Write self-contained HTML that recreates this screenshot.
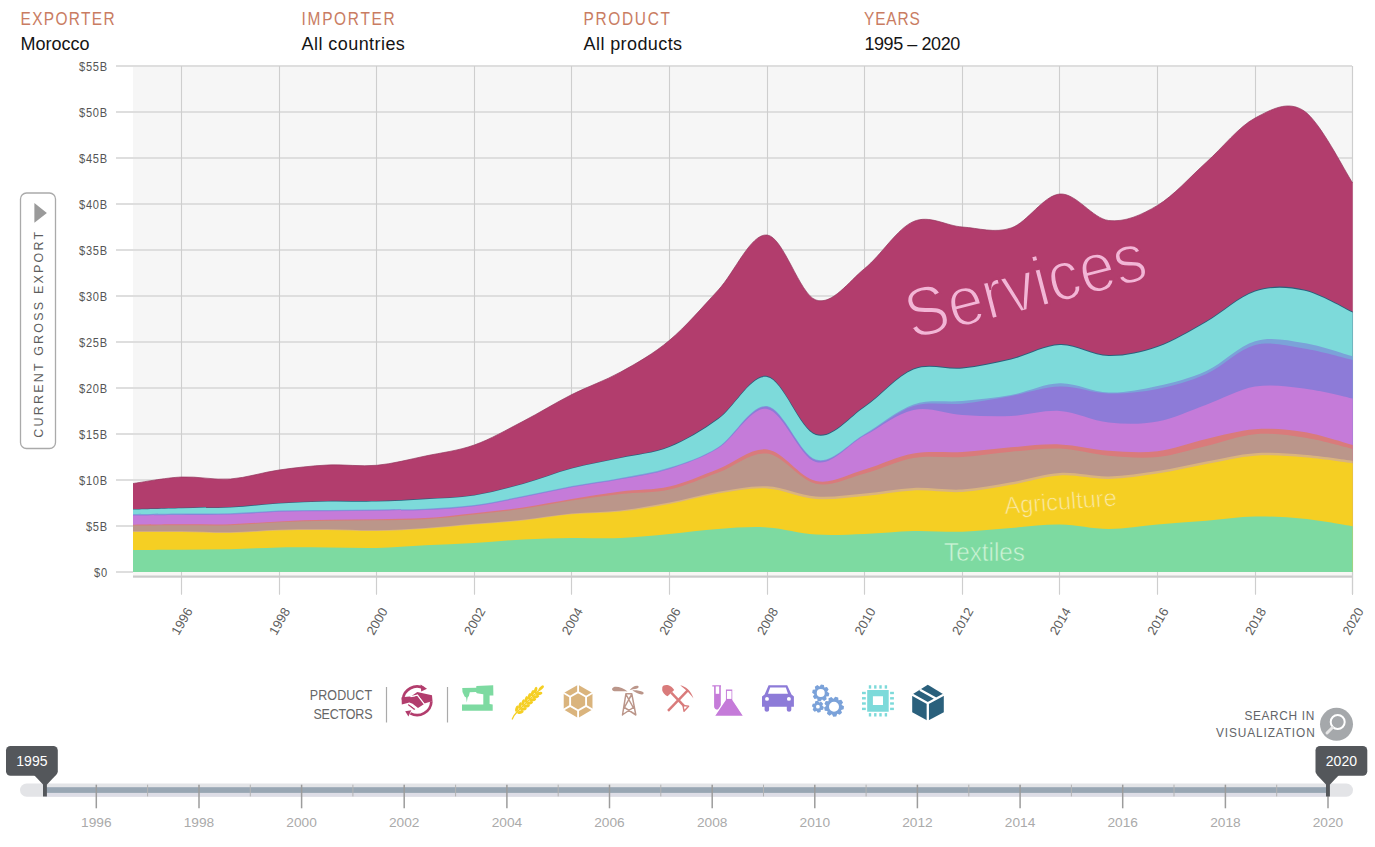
<!DOCTYPE html><html><head><meta charset="utf-8"><style>html,body{margin:0;padding:0;background:#fff;overflow:hidden}svg{display:block}text{font-family:"Liberation Sans",sans-serif}</style></head><body>
<svg width="1375" height="847" viewBox="0 0 1375 847">
<text transform="matrix(0.860,0,0,1,20.60,25.00)" font-size="18" fill="#c97c62" textLength="109.29" lengthAdjust="spacing">EXPORTER</text>
<text x="20.60" y="50.00" font-size="18" fill="#141414" textLength="69.03" lengthAdjust="spacing">Morocco</text>
<text transform="matrix(0.860,0,0,1,301.60,25.00)" font-size="18" fill="#c97c62" textLength="108.22" lengthAdjust="spacing">IMPORTER</text>
<text x="301.60" y="50.00" font-size="18" fill="#141414" textLength="103.25" lengthAdjust="spacing">All countries</text>
<text transform="matrix(0.860,0,0,1,583.40,25.00)" font-size="18" fill="#c97c62" textLength="100.76" lengthAdjust="spacing">PRODUCT</text>
<text x="583.60" y="50.00" font-size="18" fill="#141414" textLength="98.45" lengthAdjust="spacing">All products</text>
<text transform="matrix(0.860,0,0,1,864.00,25.00)" font-size="18" fill="#c97c62" textLength="64.97" lengthAdjust="spacing">YEARS</text>
<text x="864.40" y="50.00" font-size="18" fill="#141414" textLength="95.91" lengthAdjust="spacing">1995 – 2020</text>
<rect x="133" y="66" width="1219" height="506" fill="#f6f6f6"/>
<line x1="116" y1="572.0" x2="1352" y2="572.0" stroke="#dedede" stroke-width="1.8"/>
<text transform="matrix(0.88,0,0,1,107.8,576.5)" font-size="12.6" fill="#555" text-anchor="end" letter-spacing="0.8">$0</text>
<line x1="116" y1="526.0" x2="1352" y2="526.0" stroke="#dedede" stroke-width="1.8"/>
<text transform="matrix(0.88,0,0,1,107.8,530.5)" font-size="12.6" fill="#555" text-anchor="end" letter-spacing="0.8">$5B</text>
<line x1="116" y1="480.0" x2="1352" y2="480.0" stroke="#dedede" stroke-width="1.8"/>
<text transform="matrix(0.88,0,0,1,107.8,484.5)" font-size="12.6" fill="#555" text-anchor="end" letter-spacing="0.8">$10B</text>
<line x1="116" y1="434.0" x2="1352" y2="434.0" stroke="#dedede" stroke-width="1.8"/>
<text transform="matrix(0.88,0,0,1,107.8,438.5)" font-size="12.6" fill="#555" text-anchor="end" letter-spacing="0.8">$15B</text>
<line x1="116" y1="388.0" x2="1352" y2="388.0" stroke="#dedede" stroke-width="1.8"/>
<text transform="matrix(0.88,0,0,1,107.8,392.5)" font-size="12.6" fill="#555" text-anchor="end" letter-spacing="0.8">$20B</text>
<line x1="116" y1="342.0" x2="1352" y2="342.0" stroke="#dedede" stroke-width="1.8"/>
<text transform="matrix(0.88,0,0,1,107.8,346.5)" font-size="12.6" fill="#555" text-anchor="end" letter-spacing="0.8">$25B</text>
<line x1="116" y1="296.0" x2="1352" y2="296.0" stroke="#dedede" stroke-width="1.8"/>
<text transform="matrix(0.88,0,0,1,107.8,300.5)" font-size="12.6" fill="#555" text-anchor="end" letter-spacing="0.8">$30B</text>
<line x1="116" y1="250.0" x2="1352" y2="250.0" stroke="#dedede" stroke-width="1.8"/>
<text transform="matrix(0.88,0,0,1,107.8,254.5)" font-size="12.6" fill="#555" text-anchor="end" letter-spacing="0.8">$35B</text>
<line x1="116" y1="204.0" x2="1352" y2="204.0" stroke="#dedede" stroke-width="1.8"/>
<text transform="matrix(0.88,0,0,1,107.8,208.5)" font-size="12.6" fill="#555" text-anchor="end" letter-spacing="0.8">$40B</text>
<line x1="116" y1="158.0" x2="1352" y2="158.0" stroke="#dedede" stroke-width="1.8"/>
<text transform="matrix(0.88,0,0,1,107.8,162.5)" font-size="12.6" fill="#555" text-anchor="end" letter-spacing="0.8">$45B</text>
<line x1="116" y1="112.0" x2="1352" y2="112.0" stroke="#dedede" stroke-width="1.8"/>
<text transform="matrix(0.88,0,0,1,107.8,116.5)" font-size="12.6" fill="#555" text-anchor="end" letter-spacing="0.8">$50B</text>
<line x1="116" y1="66.0" x2="1352" y2="66.0" stroke="#dedede" stroke-width="1.8"/>
<text transform="matrix(0.88,0,0,1,107.8,70.5)" font-size="12.6" fill="#555" text-anchor="end" letter-spacing="0.8">$55B</text>
<line x1="181.5" y1="66" x2="181.5" y2="594.5" stroke="#cecece" stroke-width="1.1"/>
<line x1="279.5" y1="66" x2="279.5" y2="594.5" stroke="#cecece" stroke-width="1.1"/>
<line x1="376.5" y1="66" x2="376.5" y2="594.5" stroke="#cecece" stroke-width="1.1"/>
<line x1="474.5" y1="66" x2="474.5" y2="594.5" stroke="#cecece" stroke-width="1.1"/>
<line x1="571.5" y1="66" x2="571.5" y2="594.5" stroke="#cecece" stroke-width="1.1"/>
<line x1="669.5" y1="66" x2="669.5" y2="594.5" stroke="#cecece" stroke-width="1.1"/>
<line x1="767.5" y1="66" x2="767.5" y2="594.5" stroke="#cecece" stroke-width="1.1"/>
<line x1="864.5" y1="66" x2="864.5" y2="594.5" stroke="#cecece" stroke-width="1.1"/>
<line x1="962.5" y1="66" x2="962.5" y2="594.5" stroke="#cecece" stroke-width="1.1"/>
<line x1="1059.5" y1="66" x2="1059.5" y2="594.5" stroke="#cecece" stroke-width="1.1"/>
<line x1="1157.5" y1="66" x2="1157.5" y2="594.5" stroke="#cecece" stroke-width="1.1"/>
<line x1="1255.5" y1="66" x2="1255.5" y2="594.5" stroke="#cecece" stroke-width="1.1"/>
<line x1="1352.5" y1="66" x2="1352.5" y2="594.5" stroke="#cecece" stroke-width="1.1"/>
<line x1="1352.5" y1="66" x2="1352.5" y2="594.5" stroke="#cecece" stroke-width="1.1"/>
<path d="M133.0,483.5C141.1,482.4 165.3,477.8 181.5,477.0C197.7,476.2 214.0,480.2 230.3,479.0C246.6,477.8 262.8,472.3 279.1,470.0C295.4,467.7 311.6,465.8 327.9,465.0C344.2,464.2 360.4,466.8 376.7,465.3C393.0,463.8 409.2,459.4 425.5,456.0C441.8,452.6 458.0,450.8 474.3,445.0C490.6,439.2 506.8,429.7 523.1,421.3C539.4,412.9 555.6,402.7 571.9,394.5C588.2,386.3 604.4,381.0 620.7,372.0C637.0,363.0 653.2,354.0 669.5,340.3C685.8,326.6 702.0,307.6 718.3,290.0C734.6,272.4 750.8,233.3 767.1,235.0C783.4,236.7 799.6,294.4 815.9,300.0C832.2,305.6 848.4,281.6 864.7,268.5C881.0,255.4 897.2,228.4 913.5,221.5C929.8,214.6 946.0,225.9 962.3,227.0C978.6,228.1 994.8,233.5 1011.1,228.0C1027.4,222.5 1043.6,195.2 1059.9,194.0C1076.2,192.8 1092.4,218.6 1108.7,220.5C1125.0,222.4 1141.2,215.1 1157.5,205.4C1173.8,195.7 1190.0,176.9 1206.3,162.3C1222.6,147.7 1238.8,126.6 1255.1,118.0C1271.4,109.4 1287.6,100.0 1303.9,110.8C1320.2,121.6 1344.6,171.0 1352.7,183.0L1352.7,572L133.0,572Z" fill="#b23d6d"/>
<path d="M133.0,509.0C141.1,508.8 165.3,508.1 181.5,507.7C197.7,507.3 214.0,507.7 230.3,506.9C246.6,506.1 262.8,503.9 279.1,502.9C295.4,501.9 311.6,501.2 327.9,500.9C344.2,500.6 360.4,501.4 376.7,501.0C393.0,500.6 409.2,499.6 425.5,498.6C441.8,497.6 458.0,497.4 474.3,494.9C490.6,492.4 506.8,487.9 523.1,483.4C539.4,478.9 555.6,472.2 571.9,467.9C588.2,463.6 604.4,461.0 620.7,457.4C637.0,453.8 653.2,452.8 669.5,446.3C685.8,439.7 702.0,429.9 718.3,418.1C734.6,406.4 750.8,373.4 767.1,376.0C783.4,378.6 799.6,428.9 815.9,433.9C832.2,438.9 848.4,416.8 864.7,405.9C881.0,395.0 897.2,374.8 913.5,368.4C929.8,362.0 946.0,369.1 962.3,367.4C978.6,365.7 994.8,362.3 1011.1,358.4C1027.4,354.5 1043.6,344.5 1059.9,343.9C1076.2,343.3 1092.4,354.6 1108.7,354.9C1125.0,355.2 1141.2,351.6 1157.5,345.9C1173.8,340.2 1190.0,330.1 1206.3,320.9C1222.6,311.6 1238.8,295.6 1255.1,290.4C1271.4,285.1 1287.6,285.9 1303.9,289.4C1320.2,292.9 1344.6,307.7 1352.7,311.4L1352.7,572L133.0,572Z" fill="#2a607c"/>
<path d="M133.0,509.6C141.1,509.4 165.3,508.7 181.5,508.3C197.7,507.9 214.0,508.3 230.3,507.5C246.6,506.7 262.8,504.5 279.1,503.5C295.4,502.5 311.6,501.8 327.9,501.5C344.2,501.2 360.4,502.0 376.7,501.6C393.0,501.2 409.2,500.2 425.5,499.2C441.8,498.2 458.0,498.0 474.3,495.5C490.6,493.0 506.8,488.5 523.1,484.0C539.4,479.5 555.6,472.8 571.9,468.5C588.2,464.2 604.4,461.6 620.7,458.0C637.0,454.4 653.2,453.5 669.5,447.0C685.8,440.5 702.0,430.7 718.3,419.0C734.6,407.3 750.8,374.3 767.1,377.0C783.4,379.7 799.6,430.0 815.9,435.0C832.2,440.0 848.4,417.9 864.7,407.0C881.0,396.1 897.2,375.9 913.5,369.5C929.8,363.1 946.0,370.2 962.3,368.5C978.6,366.8 994.8,363.4 1011.1,359.5C1027.4,355.6 1043.6,345.6 1059.9,345.0C1076.2,344.4 1092.4,355.7 1108.7,356.0C1125.0,356.3 1141.2,352.7 1157.5,347.0C1173.8,341.3 1190.0,331.2 1206.3,322.0C1222.6,312.8 1238.8,296.8 1255.1,291.5C1271.4,286.2 1287.6,287.0 1303.9,290.5C1320.2,294.0 1344.6,308.8 1352.7,312.5L1352.7,572L133.0,572Z" fill="#7ddada"/>
<path d="M133.0,514.2C141.1,514.1 165.3,513.8 181.5,513.6C197.7,513.5 214.0,513.8 230.3,513.3C246.6,512.8 262.8,511.1 279.1,510.5C295.4,509.9 311.6,510.2 327.9,510.0C344.2,509.8 360.4,509.6 376.7,509.4C393.0,509.2 409.2,509.4 425.5,508.7C441.8,508.0 458.0,507.1 474.3,505.0C490.6,502.9 506.8,499.2 523.1,496.0C539.4,492.8 555.6,489.0 571.9,486.0C588.2,483.0 604.4,481.1 620.7,478.0C637.0,474.9 653.2,472.8 669.5,467.6C685.8,462.4 702.0,457.3 718.3,447.0C734.6,436.7 750.8,403.9 767.1,406.0C783.4,408.1 799.6,454.8 815.9,459.5C832.2,464.2 848.4,443.2 864.7,434.0C881.0,424.8 897.2,410.0 913.5,404.5C929.8,399.0 946.0,402.6 962.3,401.0C978.6,399.4 994.8,398.0 1011.1,395.0C1027.4,392.0 1043.6,383.6 1059.9,383.2C1076.2,382.8 1092.4,392.0 1108.7,392.5C1125.0,393.0 1141.2,389.6 1157.5,386.0C1173.8,382.4 1190.0,378.5 1206.3,371.0C1222.6,363.5 1238.8,345.9 1255.1,341.2C1271.4,336.5 1287.6,340.5 1303.9,343.0C1320.2,345.5 1344.6,354.1 1352.7,356.3L1352.7,572L133.0,572Z" fill="#7ba2d9"/>
<path d="M133.0,515.0C141.1,514.9 165.3,514.5 181.5,514.4C197.7,514.2 214.0,514.6 230.3,514.1C246.6,513.6 262.8,511.9 279.1,511.3C295.4,510.8 311.6,511.0 327.9,510.8C344.2,510.6 360.4,510.4 376.7,510.2C393.0,510.0 409.2,510.2 425.5,509.5C441.8,508.8 458.0,507.9 474.3,505.8C490.6,503.7 506.8,500.0 523.1,496.8C539.4,493.6 555.6,489.8 571.9,486.8C588.2,483.8 604.4,481.9 620.7,478.8C637.0,475.7 653.2,473.6 669.5,468.4C685.8,463.2 702.0,458.1 718.3,447.8C734.6,437.5 750.8,404.7 767.1,406.8C783.4,408.9 799.6,455.6 815.9,460.3C832.2,465.0 848.4,443.9 864.7,434.8C881.0,425.8 897.2,411.2 913.5,406.0C929.8,400.8 946.0,405.4 962.3,403.7C978.6,402.0 994.8,398.8 1011.1,395.9C1027.4,393.0 1043.6,386.9 1059.9,386.5C1076.2,386.1 1092.4,393.1 1108.7,393.5C1125.0,393.9 1141.2,392.2 1157.5,389.0C1173.8,385.8 1190.0,381.3 1206.3,374.0C1222.6,366.7 1238.8,349.2 1255.1,345.0C1271.4,340.8 1287.6,346.0 1303.9,348.5C1320.2,351.0 1344.6,358.1 1352.7,360.0L1352.7,572L133.0,572Z" fill="#8d7bd8"/>
<path d="M133.0,515.5C141.1,515.4 165.3,515.0 181.5,514.9C197.7,514.8 214.0,515.1 230.3,514.6C246.6,514.1 262.8,512.4 279.1,511.8C295.4,511.2 311.6,511.5 327.9,511.3C344.2,511.1 360.4,510.9 376.7,510.7C393.0,510.5 409.2,510.7 425.5,510.0C441.8,509.3 458.0,508.4 474.3,506.3C490.6,504.2 506.8,500.5 523.1,497.3C539.4,494.1 555.6,490.3 571.9,487.3C588.2,484.3 604.4,482.4 620.7,479.3C637.0,476.2 653.2,474.1 669.5,468.9C685.8,463.7 702.0,458.3 718.3,448.3C734.6,438.3 750.8,406.6 767.1,408.9C783.4,411.2 799.6,457.6 815.9,462.0C832.2,466.4 848.4,444.3 864.7,435.6C881.0,426.9 897.2,413.4 913.5,410.0C929.8,406.6 946.0,414.0 962.3,415.0C978.6,416.0 994.8,416.7 1011.1,416.0C1027.4,415.3 1043.6,409.9 1059.9,411.0C1076.2,412.1 1092.4,420.8 1108.7,422.5C1125.0,424.2 1141.2,424.5 1157.5,421.5C1173.8,418.5 1190.0,410.5 1206.3,404.7C1222.6,398.9 1238.8,389.3 1255.1,386.6C1271.4,383.9 1287.6,386.5 1303.9,388.5C1320.2,390.5 1344.6,396.8 1352.7,398.5L1352.7,572L133.0,572Z" fill="#c57bd9"/>
<path d="M133.0,524.7C141.1,524.6 165.3,524.4 181.5,524.3C197.7,524.2 214.0,524.8 230.3,524.3C246.6,523.8 262.8,522.1 279.1,521.4C295.4,520.6 311.6,520.1 327.9,519.8C344.2,519.4 360.4,519.6 376.7,519.3C393.0,519.0 409.2,519.1 425.5,518.1C441.8,517.1 458.0,515.1 474.3,513.3C490.6,511.5 506.8,509.9 523.1,507.5C539.4,505.1 555.6,501.7 571.9,499.0C588.2,496.3 604.4,493.6 620.7,491.5C637.0,489.4 653.2,490.2 669.5,486.5C685.8,482.8 702.0,475.2 718.3,469.0C734.6,462.8 750.8,447.5 767.1,449.5C783.4,451.5 799.6,477.7 815.9,481.0C832.2,484.3 848.4,474.1 864.7,469.5C881.0,464.9 897.2,456.5 913.5,453.6C929.8,450.7 946.0,453.1 962.3,452.0C978.6,450.9 994.8,448.6 1011.1,447.3C1027.4,446.0 1043.6,443.8 1059.9,444.4C1076.2,445.0 1092.4,449.7 1108.7,450.8C1125.0,451.9 1141.2,453.2 1157.5,451.2C1173.8,449.2 1190.0,442.6 1206.3,439.0C1222.6,435.4 1238.8,430.5 1255.1,429.3C1271.4,428.1 1287.6,429.4 1303.9,432.0C1320.2,434.6 1344.6,442.8 1352.7,445.0L1352.7,572L133.0,572Z" fill="#d97b7b"/>
<path d="M133.0,525.5C141.1,525.5 165.3,525.2 181.5,525.2C197.7,525.2 214.0,525.7 230.3,525.2C246.6,524.7 262.8,523.0 279.1,522.3C295.4,521.5 311.6,521.0 327.9,520.7C344.2,520.4 360.4,520.5 376.7,520.3C393.0,520.0 409.2,520.2 425.5,519.2C441.8,518.2 458.0,516.1 474.3,514.4C490.6,512.6 506.8,511.0 523.1,508.7C539.4,506.4 555.6,502.9 571.9,500.5C588.2,498.1 604.4,495.8 620.7,494.0C637.0,492.2 653.2,493.1 669.5,489.5C685.8,485.9 702.0,478.5 718.3,472.5C734.6,466.5 750.8,451.7 767.1,453.6C783.4,455.5 799.6,480.5 815.9,483.8C832.2,487.1 848.4,477.8 864.7,473.5C881.0,469.2 897.2,460.8 913.5,458.0C929.8,455.2 946.0,458.1 962.3,457.0C978.6,455.9 994.8,453.1 1011.1,451.7C1027.4,450.3 1043.6,447.8 1059.9,448.5C1076.2,449.2 1092.4,454.3 1108.7,455.7C1125.0,457.1 1141.2,458.6 1157.5,457.0C1173.8,455.4 1190.0,449.8 1206.3,446.0C1222.6,442.2 1238.8,435.6 1255.1,434.2C1271.4,432.8 1287.6,435.1 1303.9,437.6C1320.2,440.1 1344.6,447.1 1352.7,449.0L1352.7,572L133.0,572Z" fill="#bb968a"/>
<path d="M133.0,531.3C141.1,531.3 165.3,531.1 181.5,531.3C197.7,531.5 214.0,532.5 230.3,532.3C246.6,532.0 262.8,530.3 279.1,529.8C295.4,529.3 311.6,529.2 327.9,529.3C344.2,529.4 360.4,530.5 376.7,530.3C393.0,530.1 409.2,529.2 425.5,528.1C441.8,527.0 458.0,525.2 474.3,523.8C490.6,522.4 506.8,521.5 523.1,519.8C539.4,518.1 555.6,515.2 571.9,513.6C588.2,512.0 604.4,512.3 620.7,510.4C637.0,508.6 653.2,505.7 669.5,502.6C685.8,499.5 702.0,494.5 718.3,491.8C734.6,489.1 750.8,485.5 767.1,486.3C783.4,487.0 799.6,495.3 815.9,496.5C832.2,497.7 848.4,494.9 864.7,493.5C881.0,492.1 897.2,488.6 913.5,487.9C929.8,487.2 946.0,490.4 962.3,489.5C978.6,488.6 994.8,485.1 1011.1,482.3C1027.4,479.6 1043.6,474.0 1059.9,473.0C1076.2,472.0 1092.4,476.8 1108.7,476.5C1125.0,476.2 1141.2,473.5 1157.5,471.0C1173.8,468.5 1190.0,464.5 1206.3,461.5C1222.6,458.5 1238.8,454.3 1255.1,453.2C1271.4,452.1 1287.6,453.4 1303.9,454.7C1320.2,455.9 1344.6,459.7 1352.7,460.7L1352.7,572L133.0,572Z" fill="#dab47d"/>
<path d="M133.0,532.0C141.1,532.0 165.3,531.8 181.5,532.0C197.7,532.2 214.0,533.2 230.3,533.0C246.6,532.8 262.8,531.0 279.1,530.5C295.4,530.0 311.6,529.9 327.9,530.0C344.2,530.1 360.4,531.2 376.7,531.0C393.0,530.8 409.2,529.9 425.5,528.8C441.8,527.7 458.0,525.9 474.3,524.5C490.6,523.1 506.8,522.2 523.1,520.5C539.4,518.8 555.6,515.8 571.9,514.3C588.2,512.8 604.4,513.2 620.7,511.5C637.0,509.8 653.2,507.0 669.5,504.0C685.8,501.0 702.0,496.2 718.3,493.6C734.6,491.0 750.8,487.5 767.1,488.4C783.4,489.3 799.6,497.7 815.9,499.0C832.2,500.3 848.4,497.4 864.7,496.0C881.0,494.6 897.2,491.1 913.5,490.4C929.8,489.7 946.0,492.9 962.3,492.0C978.6,491.1 994.8,487.6 1011.1,484.8C1027.4,482.1 1043.6,476.5 1059.9,475.5C1076.2,474.5 1092.4,479.3 1108.7,479.0C1125.0,478.7 1141.2,476.0 1157.5,473.5C1173.8,471.0 1190.0,467.0 1206.3,464.0C1222.6,461.0 1238.8,456.8 1255.1,455.7C1271.4,454.6 1287.6,455.9 1303.9,457.2C1320.2,458.4 1344.6,462.2 1352.7,463.2L1352.7,572L133.0,572Z" fill="#f5cf23"/>
<path d="M133.0,550.0C141.1,550.0 165.3,549.9 181.5,549.8C197.7,549.7 214.0,549.7 230.3,549.3C246.6,548.9 262.8,547.7 279.1,547.4C295.4,547.1 311.6,547.4 327.9,547.5C344.2,547.6 360.4,548.4 376.7,548.0C393.0,547.6 409.2,546.1 425.5,545.3C441.8,544.5 458.0,544.0 474.3,543.0C490.6,542.0 506.8,540.2 523.1,539.4C539.4,538.6 555.6,538.2 571.9,538.0C588.2,537.8 604.4,538.7 620.7,538.0C637.0,537.3 653.2,535.5 669.5,534.0C685.8,532.5 702.0,530.1 718.3,529.0C734.6,527.9 750.8,526.5 767.1,527.4C783.4,528.3 799.6,533.5 815.9,534.6C832.2,535.7 848.4,534.6 864.7,534.0C881.0,533.4 897.2,531.4 913.5,531.0C929.8,530.6 946.0,532.2 962.3,531.7C978.6,531.2 994.8,529.2 1011.1,528.0C1027.4,526.8 1043.6,524.3 1059.9,524.5C1076.2,524.7 1092.4,529.0 1108.7,529.0C1125.0,529.0 1141.2,525.9 1157.5,524.5C1173.8,523.1 1190.0,522.0 1206.3,520.7C1222.6,519.4 1238.8,516.8 1255.1,516.5C1271.4,516.2 1287.6,517.2 1303.9,518.8C1320.2,520.4 1344.6,525.0 1352.7,526.3L1352.7,572L133.0,572Z" fill="#7ddaa1"/>
<path d="M133.0,483.5C141.1,482.4 165.3,477.8 181.5,477.0C197.7,476.2 214.0,480.2 230.3,479.0C246.6,477.8 262.8,472.3 279.1,470.0C295.4,467.7 311.6,465.8 327.9,465.0C344.2,464.2 360.4,466.8 376.7,465.3C393.0,463.8 409.2,459.4 425.5,456.0C441.8,452.6 458.0,450.8 474.3,445.0C490.6,439.2 506.8,429.7 523.1,421.3C539.4,412.9 555.6,402.7 571.9,394.5C588.2,386.3 604.4,381.0 620.7,372.0C637.0,363.0 653.2,354.0 669.5,340.3C685.8,326.6 702.0,307.6 718.3,290.0C734.6,272.4 750.8,233.3 767.1,235.0C783.4,236.7 799.6,294.4 815.9,300.0C832.2,305.6 848.4,281.6 864.7,268.5C881.0,255.4 897.2,228.4 913.5,221.5C929.8,214.6 946.0,225.9 962.3,227.0C978.6,228.1 994.8,233.5 1011.1,228.0C1027.4,222.5 1043.6,195.2 1059.9,194.0C1076.2,192.8 1092.4,218.6 1108.7,220.5C1125.0,222.4 1141.2,215.1 1157.5,205.4C1173.8,195.7 1190.0,176.9 1206.3,162.3C1222.6,147.7 1238.8,126.6 1255.1,118.0C1271.4,109.4 1287.6,100.0 1303.9,110.8C1320.2,121.6 1344.6,171.0 1352.7,183.0" fill="none" stroke="#93335c" stroke-width="0.7"/>
<rect x="133" y="572" width="1219.7" height="3.8" fill="#f8f7f5"/>
<line x1="181.5" y1="572" x2="181.5" y2="594.5" stroke="#cecece" stroke-width="1.1"/>
<line x1="279.5" y1="572" x2="279.5" y2="594.5" stroke="#cecece" stroke-width="1.1"/>
<line x1="376.5" y1="572" x2="376.5" y2="594.5" stroke="#cecece" stroke-width="1.1"/>
<line x1="474.5" y1="572" x2="474.5" y2="594.5" stroke="#cecece" stroke-width="1.1"/>
<line x1="571.5" y1="572" x2="571.5" y2="594.5" stroke="#cecece" stroke-width="1.1"/>
<line x1="669.5" y1="572" x2="669.5" y2="594.5" stroke="#cecece" stroke-width="1.1"/>
<line x1="767.5" y1="572" x2="767.5" y2="594.5" stroke="#cecece" stroke-width="1.1"/>
<line x1="864.5" y1="572" x2="864.5" y2="594.5" stroke="#cecece" stroke-width="1.1"/>
<line x1="962.5" y1="572" x2="962.5" y2="594.5" stroke="#cecece" stroke-width="1.1"/>
<line x1="1059.5" y1="572" x2="1059.5" y2="594.5" stroke="#cecece" stroke-width="1.1"/>
<line x1="1157.5" y1="572" x2="1157.5" y2="594.5" stroke="#cecece" stroke-width="1.1"/>
<line x1="1255.5" y1="572" x2="1255.5" y2="594.5" stroke="#cecece" stroke-width="1.1"/>
<line x1="1352.5" y1="572" x2="1352.5" y2="594.5" stroke="#cecece" stroke-width="1.1"/>
<line x1="1352.5" y1="572" x2="1352.5" y2="594.5" stroke="#cecece" stroke-width="1.1"/>
<rect x="133" y="575.5" width="1219" height="2.2" fill="#cbcbcb"/>
<text transform="translate(193.0,611) rotate(-60)" font-size="13" fill="#606060" text-anchor="end">1996</text>
<text transform="translate(290.6,611) rotate(-60)" font-size="13" fill="#606060" text-anchor="end">1998</text>
<text transform="translate(388.2,611) rotate(-60)" font-size="13" fill="#606060" text-anchor="end">2000</text>
<text transform="translate(485.8,611) rotate(-60)" font-size="13" fill="#606060" text-anchor="end">2002</text>
<text transform="translate(583.4,611) rotate(-60)" font-size="13" fill="#606060" text-anchor="end">2004</text>
<text transform="translate(681.0,611) rotate(-60)" font-size="13" fill="#606060" text-anchor="end">2006</text>
<text transform="translate(778.6,611) rotate(-60)" font-size="13" fill="#606060" text-anchor="end">2008</text>
<text transform="translate(876.2,611) rotate(-60)" font-size="13" fill="#606060" text-anchor="end">2010</text>
<text transform="translate(973.8,611) rotate(-60)" font-size="13" fill="#606060" text-anchor="end">2012</text>
<text transform="translate(1071.4,611) rotate(-60)" font-size="13" fill="#606060" text-anchor="end">2014</text>
<text transform="translate(1169.0,611) rotate(-60)" font-size="13" fill="#606060" text-anchor="end">2016</text>
<text transform="translate(1266.6,611) rotate(-60)" font-size="13" fill="#606060" text-anchor="end">2018</text>
<text transform="translate(1364.2,611) rotate(-60)" font-size="13" fill="#606060" text-anchor="end">2020</text>
<text transform="translate(912,339.5) rotate(-14.4)" font-size="70" fill="#f2b6d6" stroke="#b23d6d" stroke-width="2" textLength="246" lengthAdjust="spacingAndGlyphs">Services</text>
<text transform="translate(1005,514) rotate(-4.3)" font-size="24" fill="#fbe9a0" stroke="#f5cf23" stroke-width="0.6" textLength="112.5" lengthAdjust="spacingAndGlyphs">Agriculture</text>
<text x="944" y="561" font-size="25" fill="#cbf3d6" stroke="#7ddaa1" stroke-width="0.5" textLength="81" lengthAdjust="spacingAndGlyphs">Textiles</text>
<rect x="20.5" y="193" width="35" height="255.5" rx="6" fill="#fff" stroke="#aaa" stroke-width="1.3"/>
<path d="M34.4,203L46.9,212.9L34.4,222.8Z" fill="#9a9a9a"/>
<text transform="translate(43.1,437.7) rotate(-90)" font-size="12.5" fill="#5e5e5e" letter-spacing="3.2" textLength="209">CURRENT GROSS EXPORT</text>
<text transform="matrix(0.880,0,0,1,309.80,700.00)" font-size="14.2" fill="#666" textLength="70.78" lengthAdjust="spacing">PRODUCT</text>
<text transform="matrix(0.880,0,0,1,313.40,718.80)" font-size="14.2" fill="#666" textLength="67.23" lengthAdjust="spacing">SECTORS</text>
<line x1="386.5" y1="687" x2="386.5" y2="722.5" stroke="#aaa" stroke-width="1.2"/>
<line x1="447.5" y1="687" x2="447.5" y2="722.5" stroke="#aaa" stroke-width="1.2"/>
<g transform="translate(397,681)" fill="#b23d6d">
<path d="M5.85,18.55 A14.3,14.3 0 0 1 26.81,7.17" fill="none" stroke="#b23d6d" stroke-width="2.7"/>
<path d="M23.6,3.6L30,7.7L24.2,10.6Z"/>
<path d="M34.39,20.30 A14.3,14.3 0 0 1 13.39,32.43" fill="none" stroke="#b23d6d" stroke-width="2.7"/>
<path d="M8.2,30.3L14.3,29.3L11.4,35.6Z"/>
<path d="M4.6,16.2L12.6,15.6L16.2,16.1L20.4,14.1L27.2,23L21,27L15.6,22.8L12.4,21.4L4.8,23.6Z"/>
<path d="M14.2,15.2L20.3,11.1L27,12.4L35,14.3L35.5,20L31.5,21.2L27.4,22.4L20.6,13.6L16.5,15.5Z"/>
<path d="M10.8,23.9L11.8,22.9L18.4,28L17.2,29.1Z"/>
<path d="M13.6,15.6L20.3,14.1L27.3,23.2M11.6,22.2L19.6,28" fill="none" stroke="#fff" stroke-width="1.1"/>
</g>
<path transform="translate(458,681)" fill="#7ddaa1" d="M4.25,7.1L18.2,6.8L18.4,5L35.2,4.25L35.4,14.4L31.6,14.4L31.6,23.1L34.7,23.4L34.7,29.8L4,29.8L4,23.4L25.3,23.4L25.3,13.2L18.9,12.3L17.9,11.1L11.8,11.3L10.9,15.1L9.6,16.4L8.8,21.6L8.1,16.4L6.6,15.6L4.5,10.9Z"/>
<g transform="translate(508,681)" fill="#f5cf23">
<path d="M4.3,38Q6,34 8.6,31.6" fill="none" stroke="#f5cf23" stroke-width="1.3" stroke-linecap="round"/>
<g transform="translate(8.2,31.8) rotate(-44.7)">
<ellipse cx="3.4" cy="-2.5" rx="3.3" ry="1.55" transform="rotate(-30 3.4 -2.5)"/>
<ellipse cx="3.4" cy="2.5" rx="3.3" ry="1.55" transform="rotate(30 3.4 2.5)"/>
<ellipse cx="7.8" cy="-2.5" rx="3.3" ry="1.55" transform="rotate(-30 7.8 -2.5)"/>
<ellipse cx="7.8" cy="2.5" rx="3.3" ry="1.55" transform="rotate(30 7.8 2.5)"/>
<ellipse cx="12.2" cy="-2.5" rx="3.3" ry="1.55" transform="rotate(-30 12.2 -2.5)"/>
<ellipse cx="12.2" cy="2.5" rx="3.3" ry="1.55" transform="rotate(30 12.2 2.5)"/>
<ellipse cx="16.6" cy="-2.5" rx="3.3" ry="1.55" transform="rotate(-30 16.6 -2.5)"/>
<ellipse cx="16.6" cy="2.5" rx="3.3" ry="1.55" transform="rotate(30 16.6 2.5)"/>
<ellipse cx="21.0" cy="-2.5" rx="3.3" ry="1.55" transform="rotate(-30 21.0 -2.5)"/>
<ellipse cx="21.0" cy="2.5" rx="3.3" ry="1.55" transform="rotate(30 21.0 2.5)"/>
<ellipse cx="25.4" cy="-2.5" rx="3.3" ry="1.55" transform="rotate(-30 25.4 -2.5)"/>
<ellipse cx="25.4" cy="2.5" rx="3.3" ry="1.55" transform="rotate(30 25.4 2.5)"/>
<ellipse cx="29.8" cy="-2.5" rx="3.3" ry="1.55" transform="rotate(-30 29.8 -2.5)"/>
<ellipse cx="29.8" cy="2.5" rx="3.3" ry="1.55" transform="rotate(30 29.8 2.5)"/>
<ellipse cx="35.2" cy="0" rx="3.4" ry="1.5"/>
<rect x="0" y="-0.7" width="34" height="1.4"/>
</g></g>
<g transform="translate(558,681)">
<polygon points="20.10,3.70 34.48,12.00 34.48,28.60 20.10,36.90 5.72,28.60 5.72,12.00" fill="#dab47d"/>
<polygon points="20.10,11.10 28.07,15.70 28.07,24.90 20.10,29.50 12.13,24.90 12.13,15.70" fill="#dab47d" stroke="#fff" stroke-width="1.9"/>
<line x1="20.10" y1="11.10" x2="20.10" y2="2.30" stroke="#fff" stroke-width="1.9"/>
<line x1="28.07" y1="15.70" x2="35.69" y2="11.30" stroke="#fff" stroke-width="1.9"/>
<line x1="28.07" y1="24.90" x2="35.69" y2="29.30" stroke="#fff" stroke-width="1.9"/>
<line x1="20.10" y1="29.50" x2="20.10" y2="38.30" stroke="#fff" stroke-width="1.9"/>
<line x1="12.13" y1="24.90" x2="4.51" y2="29.30" stroke="#fff" stroke-width="1.9"/>
<line x1="12.13" y1="15.70" x2="4.51" y2="11.30" stroke="#fff" stroke-width="1.9"/>
</g>
<g transform="translate(608,681)" fill="#bb968a">
<g fill="none" stroke="#bb968a" stroke-width="1.5" stroke-linecap="round">
<path d="M17.9,12.8L14.5,34M23.8,12.8L27.8,34M17.9,12.8L23.8,12.8M18.3,14L20.8,18.5L23.4,14M20.8,18.5L16.4,26.5L27.2,33.5M20.8,18.5L25.2,26.5L14.9,33.5"/>
</g>
<path d="M19.6,10.4C15.5,7.2 9,5 5.6,6.2C3.4,7 3.5,9.8 6.5,10.2C10.5,10.6 15.5,9.8 19.6,10.4Z"/>
<path d="M21.6,9.2C23.5,6.5 27,4.4 29.6,4.8C31.2,5.1 31,6.9 29.2,7.4C26.5,8.1 23.8,8.2 21.6,9.2Z"/>
<path d="M24.4,9.4C28,9.2 32.5,9.6 35,11C36.4,11.9 35.6,13.6 33.6,13.4C30.5,13 27.2,10.8 24.4,9.4Z"/>
</g>
<g transform="translate(658,681)" fill="#d97b7b">
<path d="M4.3,6.3C4.8,4.2 7.6,3.6 10.5,4.3C12.6,4.8 15,7 16.2,9L14.6,10.6L10.4,14.4L9.4,15.2C7.2,14 4.6,11.6 4.2,9.2Z"/>
<line x1="13.2" y1="11.6" x2="26.4" y2="25.4" stroke="#d97b7b" stroke-width="2.5"/>
<path d="M25,24.4L30.6,25.3L26,30.2Z" fill="none" stroke="#d97b7b" stroke-width="1.4" stroke-linejoin="round"/>
<line x1="10" y1="29.8" x2="30" y2="9.2" stroke="#d97b7b" stroke-width="2.5"/>
<path d="M22.2,4.2C27.5,5.2 33,9.5 35.5,17.5C32.8,13.2 28.8,9.6 22.2,4.2Z"/>
</g>
<g transform="translate(708,681)" fill="#c57bd9">
<path d="M4.3,4.2L13,4.2L13,5.4L12.8,5.4L12.8,25.5C12.8,27.4 11.3,28.6 9.5,28.6C7.6,28.6 6.1,27.4 6.1,25.5L6.1,5.4L4.3,5.4Z"/>
<rect x="7.7" y="5.4" width="3.5" height="7.4" fill="#fff"/>
<path d="M17,8L26.9,8L26.9,9.2L24.9,9.2L24.9,18.9L35.9,35.4L6.1,35.4L17.3,18.9L17.3,9.2L17,9.2Z" stroke="#fff" stroke-width="1.2"/>
<rect x="18.9" y="9.9" width="4.6" height="8" fill="#fff"/>
</g>
<g transform="translate(758,681)" fill="#8d7bd8">
<path d="M10.6,4.2L29.2,4.2L33.5,13.6L35.9,15.4L35.9,25.8L4,25.8L4,15.4L6.6,13.6Z"/>
<path d="M12.2,6.6L27.8,6.6L30,12.8L10,12.8Z" fill="#fff"/>
<circle cx="9" cy="17.9" r="1.95" fill="#fff"/><circle cx="30.9" cy="17.9" r="1.95" fill="#fff"/>
<path d="M6.6,25L11.1,25L11.1,28.5C11.1,29.8 10.1,30.8 8.85,30.8C7.6,30.8 6.6,29.8 6.6,28.5Z"/>
<path d="M28.8,25L33.3,25L33.3,28.5C33.3,29.8 32.3,30.8 31.05,30.8C29.8,30.8 28.8,29.8 28.8,28.5Z"/>
</g>
<g transform="translate(808,681)" fill="#7ba2d9" fill-rule="evenodd">
<path d="M19.25,10.86L21.35,12.20L20.75,15.16L18.30,15.58L18.15,15.79L18.69,18.22L16.17,19.89L14.14,18.45L13.89,18.50L12.55,20.60L9.59,20.00L9.17,17.55L8.96,17.40L6.53,17.94L4.86,15.42L6.30,13.39L6.25,13.14L4.15,11.80L4.75,8.84L7.20,8.42L7.35,8.21L6.81,5.78L9.33,4.11L11.36,5.55L11.61,5.50L12.95,3.40L15.91,4.00L16.33,6.45L16.54,6.60L18.97,6.06L20.64,8.58L19.20,10.61ZM8.75,12.00 a4.00,4.00 0 1 0 8.00,0 a4.00,4.00 0 1 0 -8.00,0Z"/>
<path d="M33.69,23.89L35.98,25.13L35.67,28.24L33.18,29.00L33.06,29.25L34.01,31.68L31.77,33.86L29.37,32.84L29.12,32.96L28.30,35.43L25.18,35.67L23.99,33.34L23.73,33.27L21.50,34.63L18.96,32.80L19.55,30.26L19.39,30.03L16.81,29.65L16.04,26.62L18.13,25.05L18.15,24.77L16.42,22.82L17.78,20.00L20.39,20.14L20.59,19.95L20.51,17.34L23.37,16.05L25.27,17.83L25.55,17.81L27.17,15.77L30.18,16.62L30.50,19.21L30.72,19.37L33.28,18.85L35.04,21.43L33.62,23.62ZM21.00,25.70 a5.00,5.00 0 1 0 10.00,0 a5.00,5.00 0 1 0 -10.00,0Z"/>
<path d="M14.31,24.82L15.89,26.09L15.06,28.76L13.04,28.92L12.87,29.08L12.56,31.08L9.83,31.70L8.68,30.03L8.46,29.96L6.57,30.69L4.67,28.64L5.54,26.81L5.49,26.58L3.91,25.31L4.74,22.64L6.76,22.48L6.93,22.32L7.24,20.32L9.97,19.70L11.12,21.37L11.34,21.44L13.23,20.71L15.13,22.76L14.26,24.59ZM8.00,25.70 a1.90,1.90 0 1 0 3.80,0 a1.90,1.90 0 1 0 -3.80,0Z"/>
</g>
<g transform="translate(858,681)" fill="#7ddada">
<path fill-rule="evenodd" d="M9.2,9L30.7,9L30.7,30.7L9.2,30.7ZM14.9,15.3L25,15.3L25,24.1L14.9,24.1Z"/>
<rect x="10.8" y="4.25" width="2.4" height="3.4"/><rect x="10.8" y="32.1" width="2.4" height="3.4"/>
<rect x="4" y="10.8" width="3.8" height="2.4"/><rect x="32.1" y="10.8" width="3.8" height="2.4"/>
<rect x="16.1" y="4.25" width="2.4" height="3.4"/><rect x="16.1" y="32.1" width="2.4" height="3.4"/>
<rect x="4" y="16.1" width="3.8" height="2.4"/><rect x="32.1" y="16.1" width="3.8" height="2.4"/>
<rect x="21.3" y="4.25" width="2.4" height="3.4"/><rect x="21.3" y="32.1" width="2.4" height="3.4"/>
<rect x="4" y="21.3" width="3.8" height="2.4"/><rect x="32.1" y="21.3" width="3.8" height="2.4"/>
<rect x="26.7" y="4.25" width="2.4" height="3.4"/><rect x="26.7" y="32.1" width="2.4" height="3.4"/>
<rect x="4" y="26.7" width="3.8" height="2.4"/><rect x="32.1" y="26.7" width="3.8" height="2.4"/>
</g>
<g transform="translate(908,681)">
<path fill="#2a607c" d="M19.8,3.8L35.8,13.6L35.8,31.2L19.8,39.8L4.2,31.2L4.2,13.6Z"/>
<g stroke="#fff" stroke-width="2.3" fill="none"><path d="M19.8,21V41M4,13.4L19.8,22.2L36,13.4M12,8.85L27.8,17.6"/></g>
</g>
<text transform="matrix(0.880,0,0,1,1244.40,719.60)" font-size="13.5" fill="#626468" textLength="79.36" lengthAdjust="spacing">SEARCH IN</text>
<text transform="matrix(0.880,0,0,1,1216.00,736.70)" font-size="13.5" fill="#626468" textLength="112.22" lengthAdjust="spacing">VISUALIZATION</text>
<circle cx="1336.5" cy="724.3" r="16.5" fill="#a5a8ab"/>
<circle cx="1337.7" cy="722" r="7" fill="none" stroke="#fff" stroke-width="2"/>
<line x1="1332.5" y1="727.5" x2="1327" y2="733" stroke="#e6e6e6" stroke-width="3" stroke-linecap="round"/>
<rect x="20" y="783.5" width="1333" height="13.2" rx="6.6" fill="#e3e4e7"/>
<rect x="45" y="792.9" width="1283" height="3.8" fill="#dddde6"/>
<rect x="45" y="787.2" width="1283" height="5.7" fill="#98a6b3"/>
<line x1="96.3" y1="784.7" x2="96.3" y2="808.3" stroke="#9c9c9c" stroke-width="1.5"/>
<text x="96.3" y="827.4" font-size="13" fill="#aaa" text-anchor="middle" textLength="30.5" lengthAdjust="spacingAndGlyphs">1996</text>
<line x1="147.6" y1="784.7" x2="147.6" y2="796.4" stroke="#b3b3b3" stroke-width="1"/>
<line x1="199.0" y1="784.7" x2="199.0" y2="808.3" stroke="#9c9c9c" stroke-width="1.5"/>
<text x="199.0" y="827.4" font-size="13" fill="#aaa" text-anchor="middle" textLength="30.5" lengthAdjust="spacingAndGlyphs">1998</text>
<line x1="250.3" y1="784.7" x2="250.3" y2="796.4" stroke="#b3b3b3" stroke-width="1"/>
<line x1="301.6" y1="784.7" x2="301.6" y2="808.3" stroke="#9c9c9c" stroke-width="1.5"/>
<text x="301.6" y="827.4" font-size="13" fill="#aaa" text-anchor="middle" textLength="30.5" lengthAdjust="spacingAndGlyphs">2000</text>
<line x1="352.9" y1="784.7" x2="352.9" y2="796.4" stroke="#b3b3b3" stroke-width="1"/>
<line x1="404.2" y1="784.7" x2="404.2" y2="808.3" stroke="#9c9c9c" stroke-width="1.5"/>
<text x="404.2" y="827.4" font-size="13" fill="#aaa" text-anchor="middle" textLength="30.5" lengthAdjust="spacingAndGlyphs">2002</text>
<line x1="455.6" y1="784.7" x2="455.6" y2="796.4" stroke="#b3b3b3" stroke-width="1"/>
<line x1="506.9" y1="784.7" x2="506.9" y2="808.3" stroke="#9c9c9c" stroke-width="1.5"/>
<text x="506.9" y="827.4" font-size="13" fill="#aaa" text-anchor="middle" textLength="30.5" lengthAdjust="spacingAndGlyphs">2004</text>
<line x1="558.2" y1="784.7" x2="558.2" y2="796.4" stroke="#b3b3b3" stroke-width="1"/>
<line x1="609.5" y1="784.7" x2="609.5" y2="808.3" stroke="#9c9c9c" stroke-width="1.5"/>
<text x="609.5" y="827.4" font-size="13" fill="#aaa" text-anchor="middle" textLength="30.5" lengthAdjust="spacingAndGlyphs">2006</text>
<line x1="660.8" y1="784.7" x2="660.8" y2="796.4" stroke="#b3b3b3" stroke-width="1"/>
<line x1="712.2" y1="784.7" x2="712.2" y2="808.3" stroke="#9c9c9c" stroke-width="1.5"/>
<text x="712.2" y="827.4" font-size="13" fill="#aaa" text-anchor="middle" textLength="30.5" lengthAdjust="spacingAndGlyphs">2008</text>
<line x1="763.5" y1="784.7" x2="763.5" y2="796.4" stroke="#b3b3b3" stroke-width="1"/>
<line x1="814.8" y1="784.7" x2="814.8" y2="808.3" stroke="#9c9c9c" stroke-width="1.5"/>
<text x="814.8" y="827.4" font-size="13" fill="#aaa" text-anchor="middle" textLength="30.5" lengthAdjust="spacingAndGlyphs">2010</text>
<line x1="866.1" y1="784.7" x2="866.1" y2="796.4" stroke="#b3b3b3" stroke-width="1"/>
<line x1="917.4" y1="784.7" x2="917.4" y2="808.3" stroke="#9c9c9c" stroke-width="1.5"/>
<text x="917.4" y="827.4" font-size="13" fill="#aaa" text-anchor="middle" textLength="30.5" lengthAdjust="spacingAndGlyphs">2012</text>
<line x1="968.8" y1="784.7" x2="968.8" y2="796.4" stroke="#b3b3b3" stroke-width="1"/>
<line x1="1020.1" y1="784.7" x2="1020.1" y2="808.3" stroke="#9c9c9c" stroke-width="1.5"/>
<text x="1020.1" y="827.4" font-size="13" fill="#aaa" text-anchor="middle" textLength="30.5" lengthAdjust="spacingAndGlyphs">2014</text>
<line x1="1071.4" y1="784.7" x2="1071.4" y2="796.4" stroke="#b3b3b3" stroke-width="1"/>
<line x1="1122.7" y1="784.7" x2="1122.7" y2="808.3" stroke="#9c9c9c" stroke-width="1.5"/>
<text x="1122.7" y="827.4" font-size="13" fill="#aaa" text-anchor="middle" textLength="30.5" lengthAdjust="spacingAndGlyphs">2016</text>
<line x1="1174.0" y1="784.7" x2="1174.0" y2="796.4" stroke="#b3b3b3" stroke-width="1"/>
<line x1="1225.4" y1="784.7" x2="1225.4" y2="808.3" stroke="#9c9c9c" stroke-width="1.5"/>
<text x="1225.4" y="827.4" font-size="13" fill="#aaa" text-anchor="middle" textLength="30.5" lengthAdjust="spacingAndGlyphs">2018</text>
<line x1="1276.7" y1="784.7" x2="1276.7" y2="796.4" stroke="#b3b3b3" stroke-width="1"/>
<line x1="1328.0" y1="784.7" x2="1328.0" y2="808.3" stroke="#9c9c9c" stroke-width="1.5"/>
<text x="1328.0" y="827.4" font-size="13" fill="#aaa" text-anchor="middle" textLength="30.5" lengthAdjust="spacingAndGlyphs">2020</text>
<rect x="43.0" y="783.7" width="3.9" height="12.8" fill="#54575b"/>
<rect x="6.0" y="746" width="51.8" height="29.7" rx="4.5" fill="#54575b"/>
<path d="M34.0,775L56.0,775L47.0,784.5L43.0,784.5Z" fill="#54575b"/>
<text x="31.9" y="765.7" font-size="14" fill="#fff" text-anchor="middle">1995</text>
<rect x="1326.0" y="783.7" width="3.9" height="12.8" fill="#54575b"/>
<rect x="1315.5" y="746" width="51.8" height="29.7" rx="4.5" fill="#54575b"/>
<path d="M1317.0,775L1339.0,775L1330.0,784.5L1326.0,784.5Z" fill="#54575b"/>
<text x="1341.4" y="765.7" font-size="14" fill="#fff" text-anchor="middle">2020</text>
</svg></body></html>
